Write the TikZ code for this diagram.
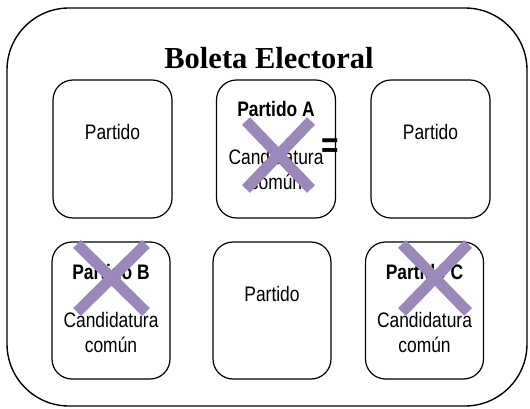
\documentclass[tikz,border=0pt]{standalone}
\usepackage{fontspec}
\setmainfont[FakeStretch=0.83]{Liberation Sans}
\newfontfamily\titlefont{Liberation Serif}
\usepackage{tikz}
\usetikzlibrary{positioning}
\usepackage{xcolor}
\definecolor{crosspurple}{RGB}{155,136,187}

\begin{document}
\begin{tikzpicture}[x=1pt,y=-1pt,font=\fontsize{21}{24}\selectfont,
    party/.style={draw,line width=1.2pt,rounded corners=20pt,minimum width=119pt,minimum height=138pt,inner sep=0pt},
    cross/.style={crosspurple,line width=11pt}]
  \useasboundingbox (0,0) rectangle (530,409);
  \draw[line width=1.4pt,rounded corners=62pt] (7,8) rectangle (527,406);
  \node[font=\titlefont\fontsize{30.5}{32}\selectfont\bfseries] (title) at (269,58) {Boleta Electoral};
  % top row
  \node[party] (p1) at (112.5,149) {};
  \node[party] (pA) at (276,149) {};
  \node[party] (p3) at (430.5,149) {};
  % bottom row
  \node[party,minimum width=118pt,minimum height=137pt] (pB) at (111,310.5) {};
  \node[party,minimum width=118pt,minimum height=137pt] (p5) at (272,310.5) {};
  \node[party,minimum width=118pt,minimum height=137pt] (pC) at (424.5,310.5) {};
  \node (t1) at ([yshift=-53pt]p1.north) {Partido};
  \node (t3) at ([yshift=-53pt]p3.north) {Partido};
  \node (t5) at ([yshift=-53pt]p5.north) {Partido};
  \node[font=\fontsize{21}{24}\selectfont\bfseries] (nA) at ([yshift=-30pt]pA.north) {Partido A};
  \node[align=center,font=\fontsize{21}{25}\selectfont] (cA) at ([yshift=-90pt]pA.north) {Candidatura\\común};
  \node[font=\fontsize{21}{24}\selectfont\bfseries] (nB) at ([yshift=-31pt]pB.north) {Partido B};
  \node[align=center,font=\fontsize{21}{25}\selectfont] (cB) at ([yshift=-91pt]pB.north) {Candidatura\\común};
  \node[font=\fontsize{21}{24}\selectfont\bfseries] (nC) at ([yshift=-31pt]pC.north) {Partido C};
  \node[align=center,font=\fontsize{21}{25}\selectfont] (cC) at ([yshift=-91pt]pC.north) {Candidatura\\común};
  % crosses
  \draw[cross] (246,121) -- (311,189) (311,121) -- (246,189);
  \draw[cross] (77,244) -- (146,312) (146,244) -- (77,312);
  \draw[cross] (402,244) -- (468,312) (468,244) -- (402,312);
  \node[font=\fontsize{36}{36}\selectfont\bfseries,inner sep=0pt] (eq) at (330,148) {=};
\end{tikzpicture}
\end{document}
